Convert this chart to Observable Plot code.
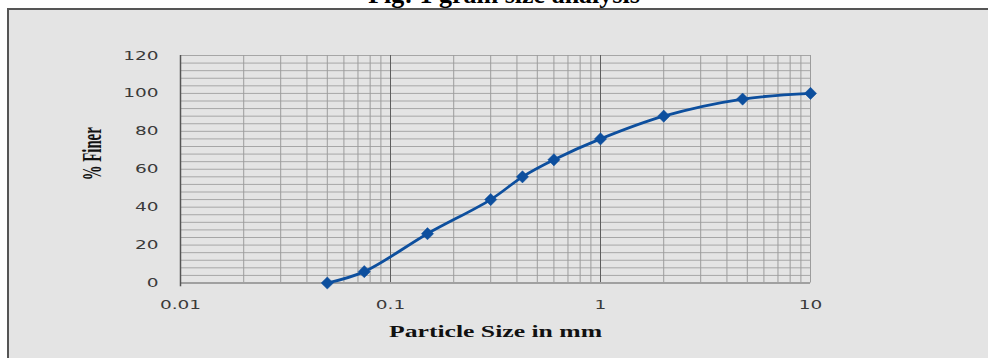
<!DOCTYPE html>
<html><head><meta charset="utf-8">
<script src="https://cdn.jsdelivr.net/npm/d3@7"></script>
<script src="https://cdn.jsdelivr.net/npm/@observablehq/plot@0.6"></script>
<style>
body{margin:0;background:#fff;width:988px;height:358px;overflow:hidden;position:relative;}
#title{position:absolute;left:10px;top:-18px;width:988px;text-align:center;font:bold 26px "Liberation Serif";line-height:26px;color:#000;white-space:nowrap;}
#box{position:absolute;left:7px;top:8px;width:990px;height:360px;border-left:2px solid #555;border-top:2px solid #555;background:#e4e4e4;}
#box svg{display:block;background:transparent;}
</style></head><body>
<div id="title">Fig: 1 grain size analysis</div>
<div id="box"></div>
<script>
const sizes = [0.05, 0.075, 0.15, 0.3, 0.425, 0.6, 1, 2, 4.75, 10];
const finer = [0, 6, 26, 44, 56, 65, 76, 88, 97, 100];
const xTicks = [0.01, 0.1, 1, 10];
const xTickLabels = ["0.01", "0.1", "1", "10"];
const yTicks = [0, 20, 40, 60, 80, 100, 120];
const yGrid = d3.range(0, 121, 4);
const decades = [0.01, 0.1, 1];
const minorSteps = [2, 3, 4, 5, 6, 7, 8, 9];
const xMinor = decades.flatMap(d => minorSteps.map(m => +(d * m).toPrecision(3)));
const xTitle = "Particle Size in mm";
const yTitle = "% Finer";

const data = sizes.map((s, i) => ({size: s, finer: finer[i]}));
const xLabelOf = new Map(xTicks.map((t, i) => [t, xTickLabels[i]]));
const blue = "#0d4f9e";

const chart = Plot.plot({
  width: 979,
  height: 348,
  marginLeft: 171,
  marginRight: 178,
  marginTop: 45,
  marginBottom: 75.5,
  style: {background: "transparent", overflow: "visible"},
  x: {type: "log", domain: [0.01, 10], axis: null},
  y: {domain: [0, 120], axis: null},
  marks: [
    Plot.ruleY(yGrid, {y: d => d, stroke: "#a6a6a6", strokeWidth: 1}),
    Plot.ruleX(xMinor, {x: d => d, stroke: "#9c9c9c", strokeWidth: 1}),
    Plot.ruleX([10], {x: d => d, stroke: "#9c9c9c", strokeWidth: 1}),
    Plot.ruleX([0.1, 1], {x: d => d, stroke: "#5e5e5e", strokeWidth: 1}),
    Plot.ruleY([0], {y: d => d, stroke: "#a0a0a0", strokeWidth: 2}),
    Plot.ruleX([0.01], {x: d => d, stroke: "#555", strokeWidth: 1.5, y1: -2, y2: 120}),
    Plot.line(data, {x: "size", y: "finer", stroke: blue, strokeWidth: 2.8, curve: "catmull-rom"}),
    Plot.dot(data, {x: "size", y: "finer", symbol: "diamond2", r: 5.5, fill: blue, stroke: blue, strokeWidth: 0.5}),
    Plot.text(xTicks, {x: d => d, frameAnchor: "bottom", text: d => xLabelOf.get(d), dy: 22, lineAnchor: "middle", fontSize: 12.5, fontFamily: "DejaVu Sans", fill: "#3a3a3a"}),
    Plot.axisY(yTicks, {tickSize: 0, tickPadding: 22, fontSize: 12.5, fontFamily: "DejaVu Sans", fill: "#3a3a3a", label: null}),
    Plot.text([xTitle], {frameAnchor: "bottom", text: d => d, dy: 48.5, lineAnchor: "middle", fontSize: 16, fontWeight: "bold", fontFamily: "Liberation Serif", fill: "#111"}),
    Plot.text([yTitle], {frameAnchor: "left", text: d => d, dx: -88, dy: 11, rotate: -90, lineAnchor: "middle", fontSize: 27, fontWeight: "bold", fontFamily: "Liberation Serif", fill: "#111"})
  ]
});
document.getElementById("box").appendChild(chart);

// widen tick labels like the reference (horizontally stretched glyphs)
const textGroups = d3.select(chart).selectAll('g[aria-label="text"]').nodes();
const stretch = function() {
  const L = this.getComputedTextLength();
  this.setAttribute("textLength", (L * 1.48).toFixed(1));
  this.setAttribute("lengthAdjust", "spacingAndGlyphs");
};
d3.select(chart).selectAll('g[aria-label="y-axis tick label"] text').each(stretch);
if (textGroups[0]) d3.select(textGroups[0]).selectAll("text").each(stretch);
if (textGroups[1]) { const t = textGroups[1].querySelector("text"); t.setAttribute("textLength", 213); t.setAttribute("lengthAdjust", "spacingAndGlyphs"); }
if (textGroups[2]) { const t = textGroups[2].querySelector("text"); t.setAttribute("textLength", 53); t.setAttribute("lengthAdjust", "spacingAndGlyphs"); }
</script>
</body></html>
